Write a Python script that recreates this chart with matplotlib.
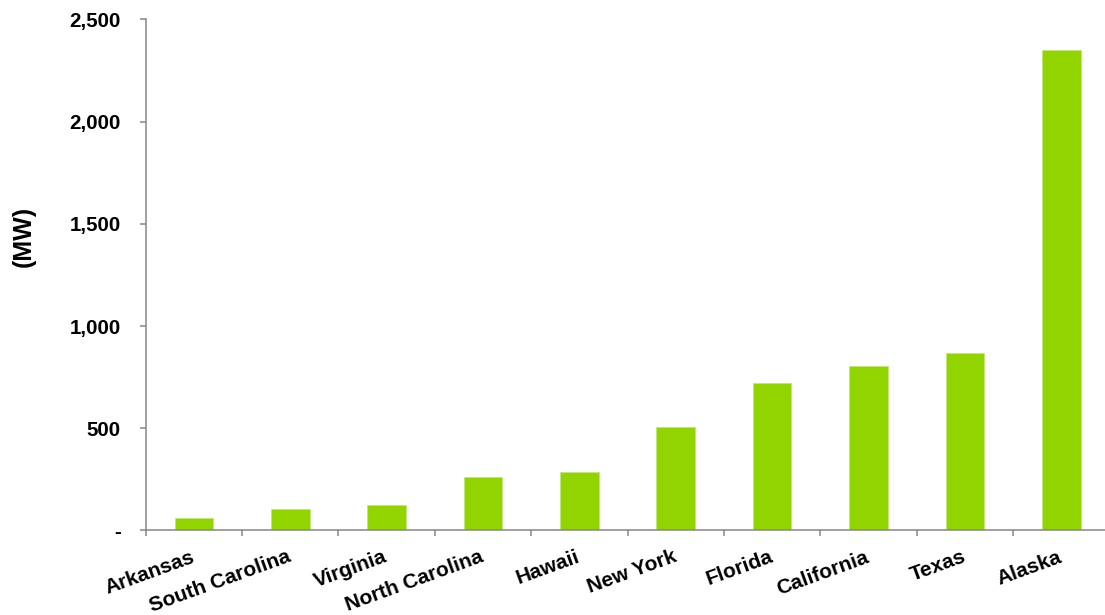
import numpy as np
import matplotlib
matplotlib.use('Agg')
import matplotlib.pyplot as plt
from matplotlib.ticker import FuncFormatter, FixedLocator

# ----------------------------------------------------------------

states = ["Arkansas", "South Carolina", "Virginia", "North Carolina", "Hawaii",
          "New York", "Florida", "California", "Texas", "Alaska"]
capacity_mw = [60, 104, 126, 264, 284, 504, 724, 806, 866, 2352]
y_ticks = [0, 500, 1000, 1500, 2000, 2500]

bar_color = '#92D400'
spine_color = '#868686'
font_name = 'Liberation Sans'

# ----------------------------------------------------------------

def fmt_mw(v, pos):
        if v == 0:
                return '-'
        return f'{v:,.0f}'

fig = plt.figure(figsize=(11.05, 6.15), dpi=100)
ax = fig.add_axes([0.1319, 0.1374, 0.8721, 0.8309])

x = np.arange(len(states))
ax.bar(x, capacity_mw, width=0.4, color=bar_color, edgecolor='#c2e67a', linewidth=0.6, zorder=2)

ax.set_xlim(-0.5, len(states) - 0.5)
ax.set_ylim(0, 2500)

# category boundary ticks (major) and label positions (minor)
ax.xaxis.set_major_locator(FixedLocator(np.arange(len(states) + 1) - 0.5))
ax.xaxis.set_major_formatter(FuncFormatter(lambda v, p: ''))
ax.xaxis.set_minor_locator(FixedLocator(x))
ax.set_xticklabels(states, minor=True)
ax.tick_params(axis='x', which='major', length=4.3, width=1.1, color=spine_color, direction='out')
ax.tick_params(axis='x', which='minor', length=0, pad=18.6)
for lab in ax.get_xticklabels(minor=True):
        lab.set_rotation(20)
        lab.set_ha('right')
        lab.set_va('center')
        lab.set_rotation_mode('anchor')
        lab.set_fontsize(15)
        lab.set_fontweight('bold')
        lab.set_fontfamily(font_name)

ax.set_yticks(y_ticks)
ax.yaxis.set_major_formatter(FuncFormatter(fmt_mw))
ax.tick_params(axis='y', length=4.3, width=1.1, color=spine_color, pad=13.7)
for lab in ax.get_yticklabels():
        lab.set_fontsize(14.8)
        lab.set_fontweight('bold')
        lab.set_fontfamily(font_name)

for s in ['top', 'right']:
        ax.spines[s].set_visible(False)
for s in ['left', 'bottom']:
        ax.spines[s].set_color(spine_color)
        ax.spines[s].set_linewidth(1.1)

ax.set_ylabel('(MW)', fontsize=18, fontweight='bold', fontfamily=font_name)
ax.yaxis.set_label_coords(-0.114, 0.575)

fig.savefig('out.png', dpi=100)
plt.close()
